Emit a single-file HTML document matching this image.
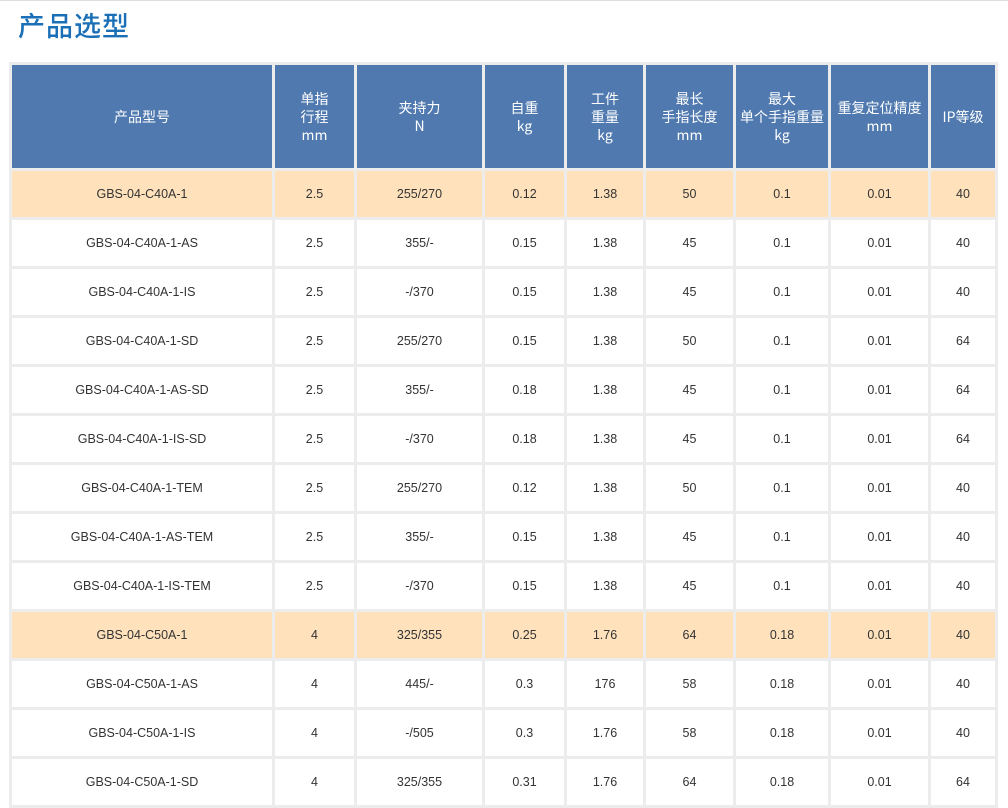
<!DOCTYPE html>
<html><head><meta charset="utf-8">
<style>
body{margin:0;width:1008px;height:804px;overflow:hidden;background:#fff;font-family:"Liberation Sans","Noto Sans CJK SC",sans-serif;position:relative}
.topline{position:absolute;left:0;top:0;width:1008px;height:1px;background:#ddd}
h1{position:absolute;left:18px;top:5px;margin:0;font-size:27px;font-weight:500;color:#1a6fb6;font-family:"Noto Sans CJK SC",sans-serif;letter-spacing:1px}
table{position:absolute;left:9px;top:62px;border-collapse:separate;border-spacing:3px;background:#ececec;table-layout:fixed}
th{background:#4f79af;color:#fff;font-weight:400;font-size:14px;height:103px;padding:0;line-height:18px;font-family:"Noto Sans CJK SC",sans-serif}
td{height:46px;padding:0;text-align:center;font-size:12.5px;color:#333;background:#fff}
tr.hl td{background:#ffe2bc}
</style></head><body>
<div class="topline"></div>
<h1>产品选型</h1>
<table>
<colgroup><col style="width:260px"><col style="width:79px"><col style="width:125px"><col style="width:79px"><col style="width:76px"><col style="width:87px"><col style="width:92px"><col style="width:97px"><col style="width:64px"></colgroup>
<thead><tr>
<th>产品型号</th>
<th>单指<br>行程<br>mm</th>
<th>夹持力<br>N</th>
<th>自重<br>kg</th>
<th>工件<br>重量<br>kg</th>
<th>最长<br>手指长度<br>mm</th>
<th>最大<br>单个手指重量<br>kg</th>
<th>重复定位精度<br>mm</th>
<th>IP等级</th>
</tr></thead>
<tbody>
<tr class="hl"><td>GBS-04-C40A-1</td><td>2.5</td><td>255/270</td><td>0.12</td><td>1.38</td><td>50</td><td>0.1</td><td>0.01</td><td>40</td></tr>
<tr><td>GBS-04-C40A-1-AS</td><td>2.5</td><td>355/-</td><td>0.15</td><td>1.38</td><td>45</td><td>0.1</td><td>0.01</td><td>40</td></tr>
<tr><td>GBS-04-C40A-1-IS</td><td>2.5</td><td>-/370</td><td>0.15</td><td>1.38</td><td>45</td><td>0.1</td><td>0.01</td><td>40</td></tr>
<tr><td>GBS-04-C40A-1-SD</td><td>2.5</td><td>255/270</td><td>0.15</td><td>1.38</td><td>50</td><td>0.1</td><td>0.01</td><td>64</td></tr>
<tr><td>GBS-04-C40A-1-AS-SD</td><td>2.5</td><td>355/-</td><td>0.18</td><td>1.38</td><td>45</td><td>0.1</td><td>0.01</td><td>64</td></tr>
<tr><td>GBS-04-C40A-1-IS-SD</td><td>2.5</td><td>-/370</td><td>0.18</td><td>1.38</td><td>45</td><td>0.1</td><td>0.01</td><td>64</td></tr>
<tr><td>GBS-04-C40A-1-TEM</td><td>2.5</td><td>255/270</td><td>0.12</td><td>1.38</td><td>50</td><td>0.1</td><td>0.01</td><td>40</td></tr>
<tr><td>GBS-04-C40A-1-AS-TEM</td><td>2.5</td><td>355/-</td><td>0.15</td><td>1.38</td><td>45</td><td>0.1</td><td>0.01</td><td>40</td></tr>
<tr><td>GBS-04-C40A-1-IS-TEM</td><td>2.5</td><td>-/370</td><td>0.15</td><td>1.38</td><td>45</td><td>0.1</td><td>0.01</td><td>40</td></tr>
<tr class="hl"><td>GBS-04-C50A-1</td><td>4</td><td>325/355</td><td>0.25</td><td>1.76</td><td>64</td><td>0.18</td><td>0.01</td><td>40</td></tr>
<tr><td>GBS-04-C50A-1-AS</td><td>4</td><td>445/-</td><td>0.3</td><td>176</td><td>58</td><td>0.18</td><td>0.01</td><td>40</td></tr>
<tr><td>GBS-04-C50A-1-IS</td><td>4</td><td>-/505</td><td>0.3</td><td>1.76</td><td>58</td><td>0.18</td><td>0.01</td><td>40</td></tr>
<tr><td>GBS-04-C50A-1-SD</td><td>4</td><td>325/355</td><td>0.31</td><td>1.76</td><td>64</td><td>0.18</td><td>0.01</td><td>64</td></tr>
</tbody></table>
</body></html>
